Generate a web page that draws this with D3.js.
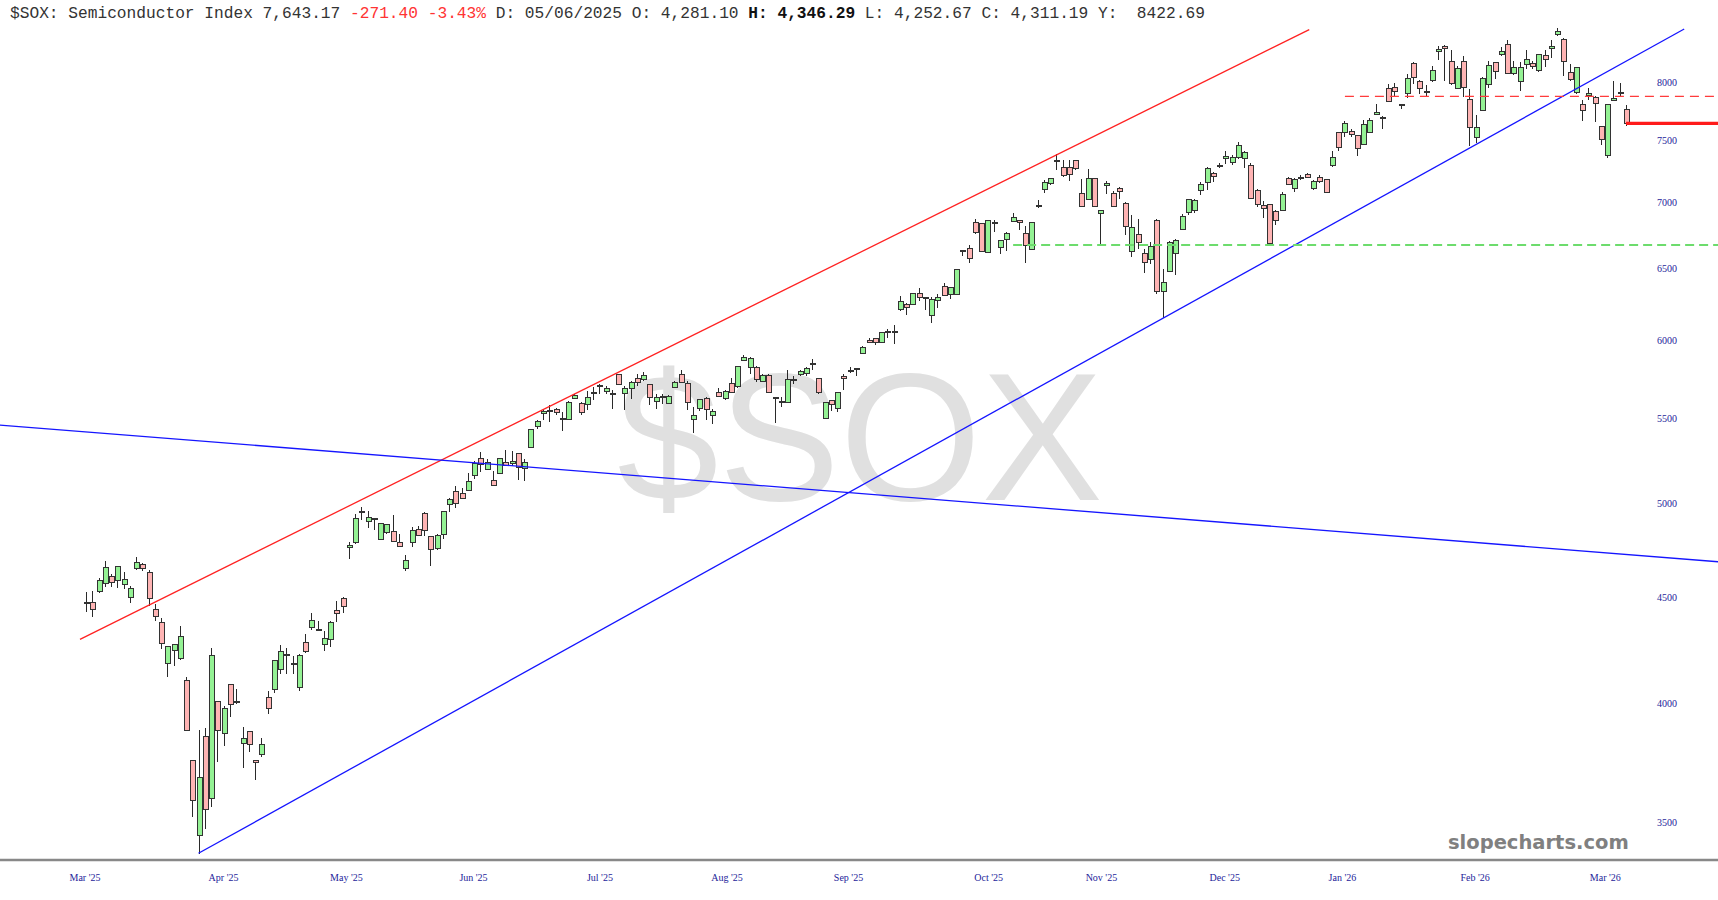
<!DOCTYPE html>
<html><head><meta charset="utf-8">
<script src="https://cdn.jsdelivr.net/npm/d3@7"></script>
<style>html,body{margin:0;padding:0;background:#fff;overflow:hidden}svg{display:block}</style>
</head><body>
<svg id="chart" width="1718" height="900"></svg>
<script>
// ---- DATA (daily candles) ----
const openV = [4475,4474,4530,4574,4607,4586,4566,4501,4650,4669,4629,4440,4378,4181,4241,4202,4104,3750,3449,3852,
3597,4008,3866,4083,4008,3825,3874,3750,3776,4023,4059,4155,4222,4174,4071,4278,4350,4341,4270,4292,
4435,4498,4759,4787,4956,4899,4917,4801,4841,4846,4787,4650,4784,4855,4945,4818,4752,4827,4993,5068,
5053,5072,5158,5259,5190,5129,5167,5231,5226,5284,5196,5323,5450,5530,5545,5552,5498,5489,5624,5588,
5582,5654,5700,5668,5652,5772,5651,5687,5746,5739,5708,5603,5632,5588,5692,5774,5714,5489,5560,5624,
5515,5662,5620,5714,5699,5865,5817,5817,5730,5767,5630,5597,5598,5741,5772,5778,5846,5746,5498,5609,
5556,5763,5798,5808,5911,5998,6009,5983,6060,6053,6209,6242,6242,6323,6283,6167,6272,6370,6314,6314,
6627,6645,6846,6833,6616,6836,6653,6712,6851,6857,6757,6637,6967,7099,7151,7330,7275,7275,7334,7067,
7019,7186,6911,7133,7067,7107,6993,6625,6750,6613,6566,6859,6337,6481,6608,6790,6918,6936,7088,7159,
7231,7295,7347,7315,7361,7347,7289,7088,6975,6983,6928,6936,7190,7111,7186,7218,7111,7199,7177,7289,
7563,7563,7572,7537,7464,7566,7719,7698,7951,7960,7804,7902,8177,8014,7918,8021,8281,8330,8195,7946,
8195,7852,7524,7756,7985,8186,8254,8345,8081,8012,8166,8172,8105,8245,8312,8444,8396,8090,7910,7806,
7887,7872,7620,7375,7843,7908,7765];
const highV = [4526,4535,4598,4690,4621,4664,4633,4557,4711,4676,4641,4468,4399,4260,4273,4361,4119,3752,3882,3890,
4252,4010,3985,4086,4064,3893,3876,3752,3845,4056,4199,4270,4252,4217,4225,4321,4422,4386,4337,4386,
4485,4505,4787,4941,4982,4956,4918,4890,4882,4936,4832,4717,4868,4877,4951,4820,4832,4960,5028,5100,
5087,5171,5245,5294,5255,5181,5258,5304,5300,5288,5255,5434,5485,5556,5582,5560,5537,5603,5651,5598,
5666,5692,5714,5703,5672,5778,5703,5735,5778,5789,5710,5651,5647,5641,5730,5806,5730,5571,5620,5630,
5556,5687,5672,5750,5832,5898,5887,5826,5778,5778,5631,5630,5804,5767,5804,5821,5876,5750,5598,5613,
5663,5774,5821,5817,5961,6013,6010,6053,6072,6099,6300,6252,6323,6361,6295,6295,6314,6394,6370,6498,
6637,6675,6872,6838,6859,6859,6712,6769,6918,6864,6813,6846,7014,7172,7194,7384,7340,7334,7340,7186,
7266,7190,6937,7164,7085,7119,7000,6897,6872,6645,6694,6872,6498,6700,6720,6905,7027,7027,7159,7280,
7239,7309,7409,7375,7486,7409,7309,7107,7006,6989,6936,7080,7199,7190,7218,7231,7177,7212,7180,7409,
7572,7665,7592,7543,7670,7686,7814,7706,7991,7996,7814,8081,8186,8027,7976,8150,8335,8345,8297,8147,
8238,7946,7719,8050,8195,8187,8320,8390,8193,8186,8294,8195,8261,8294,8387,8500,8412,8172,8143,7850,
7951,7878,7622,7812,8012,7996,7804];
const lowV = [4427,4406,4523,4552,4552,4547,4544,4474,4643,4634,4460,4386,4249,4116,4167,4199,3878,3520,3379,3475,
3560,3746,3814,3937,3996,3722,3786,3671,3768,3952,4044,4134,4132,4132,4053,4230,4340,4337,4241,4257,
4381,4422,4699,4780,4908,4865,4855,4800,4832,4790,4765,4638,4761,4819,4819,4660,4748,4805,4951,4972,
5027,5071,5139,5177,5189,5099,5166,5210,5210,5133,5129,5322,5430,5485,5475,5520,5420,5485,5620,5518,
5550,5609,5651,5651,5556,5707,5550,5620,5703,5735,5578,5556,5588,5587,5688,5720,5550,5408,5546,5489,
5465,5630,5609,5656,5688,5861,5778,5724,5724,5655,5469,5566,5594,5714,5767,5767,5800,5651,5495,5546,
5540,5677,5782,5763,5907,5980,5969,5980,6015,5971,6197,6174,6237,6265,6202,6115,6218,6302,6284,6313,
6588,6542,6757,6620,6615,6769,6608,6625,6846,6782,6537,6636,6958,7075,7133,7258,7199,7164,7258,6961,
7014,6961,6675,7060,6961,7027,6744,6583,6645,6470,6535,6319,6149,6474,6450,6782,6903,6918,7054,7093,
7159,7275,7301,7295,7347,7275,7026,6961,6877,6675,6826,6930,7133,7080,7172,7190,7093,7151,7074,7284,
7409,7529,7529,7367,7463,7558,7712,7592,7833,7878,7770,7866,7991,7902,7878,8005,8207,8012,7982,7940,
7872,7450,7478,7750,7951,8036,8245,8075,8072,7924,8126,8126,8096,8143,8225,8428,8060,8012,7902,7662,
7843,7656,7458,7356,7838,7878,7620];
const closeV = [4470,4443,4586,4652,4577,4660,4590,4547,4681,4650,4496,4406,4273,4260,4270,4308,3881,3586,3682,3550,
4217,3881,3978,3993,4004,3845,3821,3741,3821,3974,4197,4238,4220,4183,4217,4236,4386,4342,4297,4375,
4419,4455,4772,4917,4947,4921,4910,4886,4881,4791,4766,4690,4850,4823,4850,4747,4823,4954,5021,5000,
5028,5125,5229,5221,5235,5100,5255,5215,5241,5202,5231,5430,5481,5540,5548,5536,5492,5598,5641,5537,
5630,5658,5703,5687,5650,5708,5687,5724,5720,5767,5626,5626,5635,5634,5724,5724,5594,5515,5613,5550,
5542,5634,5668,5657,5828,5883,5876,5741,5767,5662,5620,5600,5741,5740,5795,5815,5848,5657,5594,5584,
5662,5750,5802,5812,5951,5983,5983,6049,6058,6055,6267,6225,6319,6295,6290,6277,6295,6307,6365,6493,
6630,6571,6769,6625,6854,6840,6707,6757,6877,6846,6670,6842,6970,7159,7186,7328,7212,7220,7266,6969,
7186,6967,6936,7146,6969,7080,6813,6803,6694,6542,6662,6337,6397,6694,6707,6890,7019,7014,7138,7272,
7207,7292,7367,7361,7458,7403,7027,6981,6954,6682,6859,7060,7138,7177,7199,7199,7167,7164,7075,7361,
7439,7642,7550,7430,7633,7665,7741,7696,7834,7922,7795,8036,8045,7951,7915,8111,8297,8312,7991,8126,
7960,7609,7609,8041,8150,8096,8281,8081,8132,8132,8207,8143,8252,8210,8327,8472,8193,8030,8132,7756,
7907,7814,7506,7804,7858,7912,7643.17];

const yTicks = [3500,4000,4500,5000,5500,6000,6500,7000,7500,8000];
const monthLabels = ["Mar '25","Apr '25","May '25","Jun '25","Jul '25","Aug '25","Sep '25","Oct '25","Nov '25","Dec '25","Jan '26","Feb '26","Mar '26"];
const monthPos = [-0.16,21.97,41.6,61.9,82.1,102.4,121.8,144.2,162.2,181.9,200.7,221.9,242.7];

// drawn studies: [bar index, price]
const redChannel = [[-0.96,4295],[195.4,8488]];
const blueChannel = [[17.97,3382],[255.3,8494]];
const blueFalling = [[-13.76,5457],[261.1,4683]];
const resistance = {from:201.1, to:261.1, price:7878};
const support = {from:148.1, to:261.1, price:6673};
const lastClose = 7643.17;

// ---- DRAW ----
const W = 1718, H = 900;
const svg = d3.select("#chart");
const x = d3.scaleLinear().domain([0, openV.length - 1]).range([86, 1626]);
const y = d3.scaleLog().domain([3500, 8000]).range([822.6, 82.6]);
const bodyW = 5;

// watermark
svg.append("text").attr("x", 860).attr("y", 500).attr("text-anchor","middle")
  .attr("font-family","Liberation Sans, Arial, sans-serif").attr("font-size",182)
  .attr("fill","#e0e0e0").text("$SOX");

// header
const hdr = svg.append("text").attr("x", 10).attr("y", 18)
  .attr("font-family","Liberation Mono, Courier New, monospace").attr("font-size",16.2)
  .attr("fill","#333").style("white-space","pre");
hdr.append("tspan").text("$SOX: Semiconductor Index 7,643.17 ");
hdr.append("tspan").attr("fill","#ff3333").text("-271.40 -3.43%");
hdr.append("tspan").text(" D: 05/06/2025 O: 4,281.10 ");
hdr.append("tspan").attr("font-weight","bold").attr("fill","#111").text("H: 4,346.29");
hdr.append("tspan").text(" L: 4,252.67 C: 4,311.19 Y:  8422.69");

// y tick labels
svg.append("g").selectAll("text").data(yTicks).join("text")
  .attr("x", 1667).attr("y", d => y(d) + 3.5).attr("text-anchor","middle")
  .attr("font-family","Liberation Serif, Times New Roman, serif").attr("font-size",10)
  .attr("fill","#24249a").text(d => d);

// bottom axis line + month labels
svg.append("line").attr("x1",0).attr("x2",W).attr("y1",860).attr("y2",860)
  .attr("stroke","#888").attr("stroke-width",2.5);
svg.append("g").selectAll("text").data(monthLabels).join("text")
  .attr("x", (d,i) => x(monthPos[i])).attr("y", 881).attr("text-anchor","middle")
  .attr("font-family","Liberation Serif, Times New Roman, serif").attr("font-size",10)
  .attr("fill","#24249a").text(d => d);

// candles
const idx = d3.range(openV.length);
const cg = svg.append("g").attr("shape-rendering","crispEdges");
cg.selectAll("line.wick").data(idx).join("line").attr("class","wick")
  .attr("x1", i => Math.round(x(i)) + 0.5).attr("x2", i => Math.round(x(i)) + 0.5)
  .attr("y1", i => y(highV[i])).attr("y2", i => y(lowV[i]))
  .attr("stroke","#2a2a2a").attr("stroke-width",1);
cg.selectAll("rect.body").data(idx).join("rect").attr("class","body")
  .attr("x", i => Math.round(x(i)) - 2 + 0.5)
  .attr("width", bodyW)
  .attr("y", i => y(Math.max(openV[i], closeV[i])) )
  .attr("height", i => Math.max(1, y(Math.min(openV[i], closeV[i])) - y(Math.max(openV[i], closeV[i]))))
  .attr("fill", i => closeV[i] >= openV[i] ? "#94f294" : "#ffb4b4")
  .attr("stroke","#333").attr("stroke-width",1);

// studies
const seg = (pts, color, w, dash) => svg.append("line")
  .attr("x1", x(pts[0][0])).attr("y1", y(pts[0][1]))
  .attr("x2", x(pts[1][0])).attr("y2", y(pts[1][1]))
  .attr("stroke", color).attr("stroke-width", w).attr("stroke-dasharray", dash || null);
seg(redChannel, "#ff2222", 1.3);
seg(blueChannel, "#1515ff", 1.3);
seg(blueFalling, "#1515ff", 1.3);
seg([[resistance.from, resistance.price],[resistance.to, resistance.price]], "#ff3b3b", 1.4, "9,6");
seg([[support.from, support.price],[support.to, support.price]], "#6ddc6d", 2, "9,5");
seg([[openV.length - 1, lastClose],[261.1, lastClose]], "#ff1a1a", 3.2);

// brand
svg.append("text").attr("x", 1448).attr("y", 849)
  .attr("font-family","DejaVu Sans, Verdana, sans-serif").attr("font-weight","bold").attr("font-size",19.5)
  .attr("fill","#808080").text("slopecharts.com");
</script>
</body></html>
